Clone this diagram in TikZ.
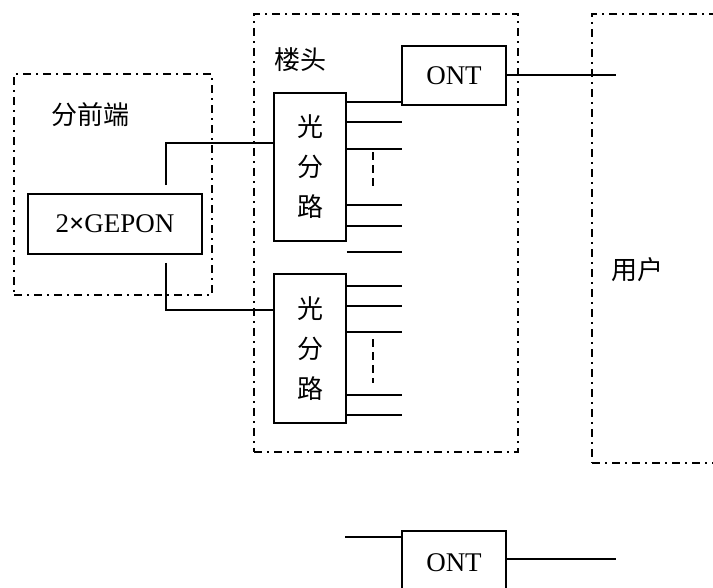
\documentclass[tikz,border=0pt]{standalone}
\usepackage{fontspec}
\setmainfont{Liberation Serif}
\newfontfamily\cjk{Noto Sans CJK SC}
\begin{document}
\begin{tikzpicture}[x=1pt,y=-1pt,
  wire/.style={line width=1.6pt,line cap=butt},
  group/.style={draw,line width=1.4pt,dash pattern=on 8pt off 5pt on 2pt off 5pt,minimum width=#1},
  box/.style={draw,line width=1.6pt,inner sep=0pt},
  lat/.style={font=\fontsize{27}{30}\selectfont},
  cn/.style={font=\cjk\fontsize{26}{30}\selectfont},
  cnstack/.style={font=\cjk\fontsize{26}{40}\selectfont,align=center},
  vdash/.style={line width=1.6pt,dash pattern=on 8pt off 5pt}]
\useasboundingbox (0,0) rectangle (713,588);
\clip (0,0) rectangle (713,588);
% groups
\node[group=198pt,minimum height=221pt] (fe) at (113,184.5) {};
\node[group=264pt,minimum height=438pt] (bh) at (386,233) {};
\node[group=138pt,minimum height=449pt] (us) at (661,238.5) {};
\node[cn] (tfe) at (91,115) {分前端};
\node[cn] (tbh) at (300,60) {楼头};
\node[cn] (tus) at (637,270) {用户};
% boxes
\node[box,lat,minimum width=174pt,minimum height=60pt] (g) at (115,224) {2\textbf{×}GEPON};
\node[box,lat,minimum width=104pt,minimum height=59pt] (o1) at (454,75.5) {ONT};
\node[box,cnstack,minimum width=72pt,minimum height=148pt] (s1) at (310,167) {光\\分\\路};
\node[box,cnstack,minimum width=72pt,minimum height=149pt] (s2) at (310,348.5) {光\\分\\路};
\node[box,lat,minimum width=104pt,minimum height=63pt] (o2) at (454,562.5) {ONT};
% feeders
\draw[wire] ([xshift=51pt,yshift=8pt]g.north) |- ([yshift=-51pt]s1.north west);
\draw[wire] ([xshift=51pt,yshift=-8pt]g.south) |- ([yshift=-37pt]s2.north west);
% splitter 1 outputs
\draw[wire] ([yshift=-10pt]s1.north east) -- ([yshift=-10pt]s1.north east -| o1.west);
\foreach \d in {30,57,113,134,160}
  \draw[wire] ([yshift=-\d pt]s1.north east) -- ++(55,0);
\draw[vdash] ([xshift=26pt,yshift=-60pt]s1.north east) -- ++(0,35);
% splitter 2 outputs
\foreach \d in {13,33,59,122,142}
  \draw[wire] ([yshift=-\d pt]s2.north east) -- ++(55,0);
\draw[vdash] ([xshift=26pt,yshift=-66pt]s2.north east) -- ++(0,44);
% ONT links
\draw[wire] ([yshift=0.5pt]o1.east) -- ++(109,0);
\draw[wire] ([yshift=-7pt]o2.north west) -- ++(-56,0);
\draw[wire] ([yshift=-29pt]o2.north east) -- ++(109,0);
\end{tikzpicture}
\end{document}
